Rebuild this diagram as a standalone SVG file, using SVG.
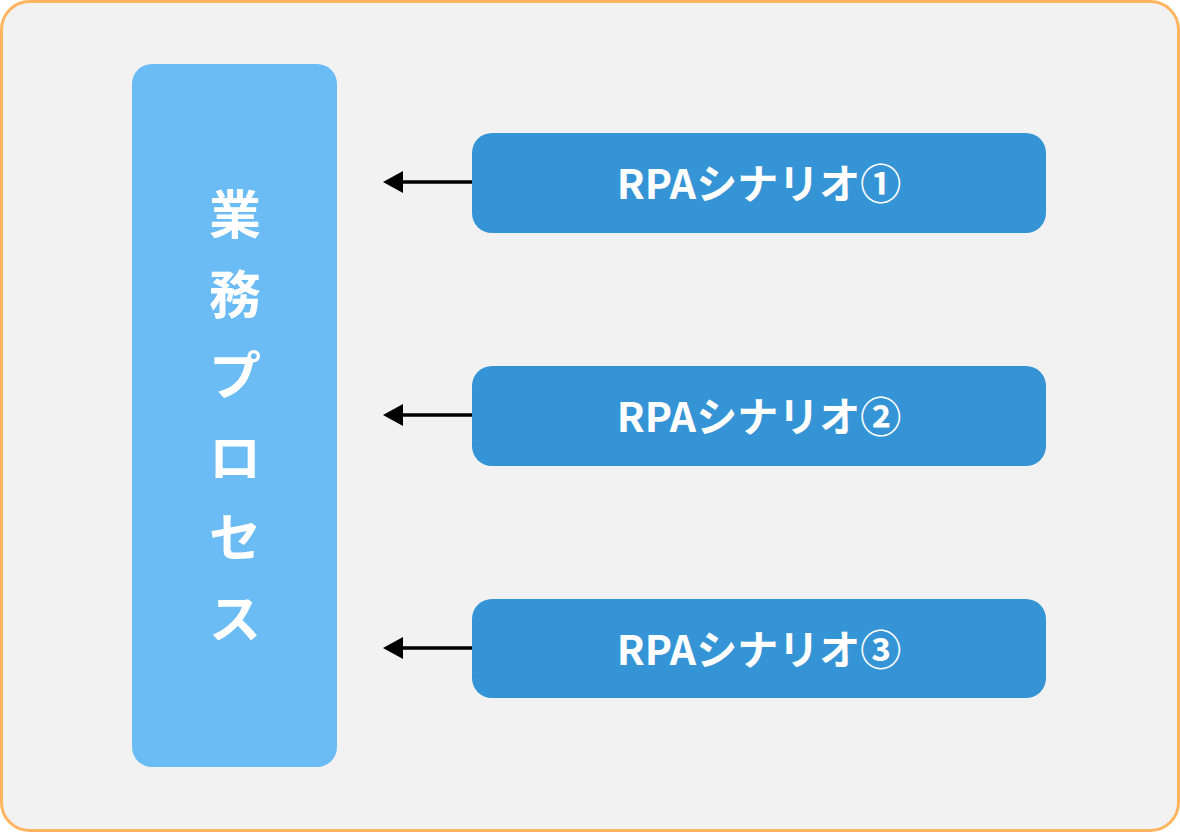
<svg xmlns="http://www.w3.org/2000/svg" width="1180" height="832" viewBox="0 0 1180 832">
<defs>
<style>
.bg{fill:#F2F2F2;stroke:#FFB55F;stroke-width:3}
.main{fill:#6BBCF5}
.sc{fill:#3594D5}
.t{font-family:"Noto Sans CJK JP","Noto Sans",sans-serif;font-weight:bold;fill:#FFFFFF;text-anchor:middle}
.vt{font-size:52px}
.st{font-size:41px}
.conn{stroke:#000;stroke-width:3.5;fill:none}
</style>
<marker id="arr" markerUnits="userSpaceOnUse" markerWidth="22" markerHeight="24" refX="1" refY="12" orient="auto" viewBox="0 0 22 24">
<path d="M1,1 L21,12 L1,23 Z" fill="#000"/>
</marker>
</defs>
<rect class="bg" x="1.5" y="1.5" width="1177" height="829" rx="28"/>
<g id="business-process">
<rect class="main" x="132" y="64" width="205" height="703" rx="20"/>
<text class="t vt" x="235" y="234">業</text>
<text class="t vt" x="235" y="314">務</text>
<text class="t vt" x="235" y="395">プ</text>
<text class="t vt" x="235" y="477">ロ</text>
<text class="t vt" x="235" y="557">セ</text>
<text class="t vt" x="235" y="638">ス</text>
</g>
<g id="scenario1">
<rect class="sc" x="472" y="133" width="574" height="100" rx="20"/>
<text class="t st" x="759" y="199">RPAシナリオ①</text>
</g>
<g id="scenario2">
<rect class="sc" x="472" y="366" width="574" height="100" rx="20"/>
<text class="t st" x="759" y="432">RPAシナリオ②</text>
</g>
<g id="scenario3">
<rect class="sc" x="472" y="599" width="574" height="99" rx="20"/>
<text class="t st" x="759" y="665">RPAシナリオ③</text>
</g>
<g id="connectors">
<line class="conn" x1="472" y1="182" x2="403" y2="182" marker-end="url(#arr)"/>
<line class="conn" x1="472" y1="415" x2="403" y2="415" marker-end="url(#arr)"/>
<line class="conn" x1="472" y1="648" x2="403" y2="648" marker-end="url(#arr)"/>
</g>
</svg>
